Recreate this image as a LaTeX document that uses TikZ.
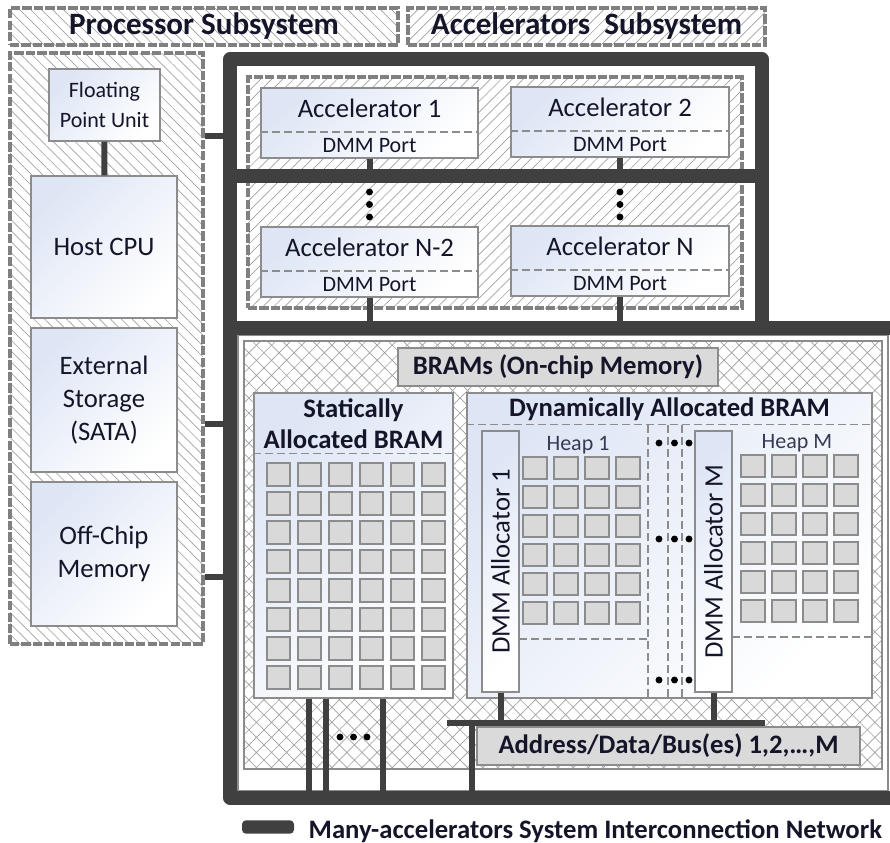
\documentclass[tikz,border=0pt]{standalone}
\usepackage{fontspec}
\setmainfont{Carlito}
\usetikzlibrary{patterns.meta,fit}
\definecolor{busgray}{HTML}{404040}
\definecolor{frameline}{HTML}{808080}
\definecolor{boxline}{HTML}{8C8C8C}
\definecolor{hatchc}{HTML}{A0A0A0}
\definecolor{tint}{HTML}{DEE6F5}
\definecolor{cellfill}{HTML}{D9D9D9}
\definecolor{labelfill}{HTML}{DADADA}
\definecolor{ink}{HTML}{15152A}
\definecolor{heapink}{HTML}{363B55}
\newcommand\fsz[2]{\fontsize{#1}{#2}\selectfont}
\tikzset{
  bus/.style={draw=busgray, line width=10pt, line join=round},
  link/.style={draw=busgray, line width=4.5pt},
  subsys/.style={draw=frameline, line width=3pt, dash pattern=on 7pt off 1.6pt, inner sep=0pt},
  hatchR/.style={pattern={Lines[angle=45,distance=5.8pt,line width=0.5pt]}, pattern color=hatchc},
  hatchL/.style={pattern={Lines[angle=-45,distance=5.8pt,line width=0.5pt]}, pattern color=hatchc},
  mesh/.style={pattern={Hatch[angle=45,distance=8pt,line width=0.5pt]}, pattern color=hatchc},
  unit/.style={draw=boxline, line width=1.1pt, top color=tint, bottom color=white, shading angle=45, inner sep=0pt},
  tag/.style={draw=boxline, line width=1.1pt, fill=labelfill, inner sep=0pt},
  cell/.style={draw=boxline, line width=1pt, fill=cellfill},
  sep/.style={draw=boxline, line width=0.9pt, dash pattern=on 6pt off 3pt},
  blob/.style={circle, fill=black, inner sep=0pt, minimum size=5.2pt},
  txt/.style={text=ink, font=\fsz{20}{25}, align=center},
  btxt/.style={text=ink, font=\bfseries\fsz{20}{23}, align=center},
  head/.style={text=ink, font=\bfseries\fsz{23.3}{28}},
}
% accelerator block with its DMM port strip
\newcommand\accbox[4]{%
  \node[unit, fit={#2 #3}] (#1) {};
  \draw[sep] ([yshift=20pt]#1.south west) -- ([yshift=20pt]#1.south east);
  \node[txt] (#1-title) at ([yshift=-16pt]#1.north) {#4};
  \node[text=ink, font=\fsz{16.5}{20}] (#1-port) at ([yshift=10pt]#1.south) {DMM Port};
}
\begin{document}
\begin{tikzpicture}[x=0.75pt,y=-0.75pt]
\useasboundingbox (0,0) rectangle (890,843);

% subsystem headers
\node[subsys, hatchL, fit={(10,8) (398,45)}] (ptitle) {};
\node[head] (ptitle-t) at (ptitle) {Processor Subsystem};
\node[subsys, hatchR, fit={(408,8) (765,45)}] (atitle) {};
\node[head] (atitle-t) at (atitle) {Accelerators\ \ Subsystem};

% processor subsystem
\node[subsys, hatchL, fit={(10,53) (203,644)}] (proc) {};
\node[unit, fit={(49,69) (160,141)}] (fpu) {};
\node[txt, font=\fsz{16.5}{22}] (fpu-t) at (fpu) {Floating\\Point Unit};
\node[unit, fit={(31,176) (177,318)}] (cpu) {};
\node[txt] (cpu-t) at (cpu) {Host CPU};
\node[unit, fit={(31,328) (177,472)}] (sata) {};
\node[txt] (sata-t) at (sata) {External\\Storage\\(SATA)};
\node[unit, fit={(31,482) (177,626)}] (ddr) {};
\node[txt] (ddr-t) at (ddr) {Off-Chip\\Memory};
\draw[link] (fpu) -- (cpu);

% accelerators subsystem
\node[subsys, hatchR, fit={(248,77) (742,308)}] (accpanel) {};
\accbox{acc1}{(261,88)}{(478,158)}{Accelerator 1}
\accbox{acc2}{(511,87)}{(729,157)}{Accelerator 2}
\accbox{accn2}{(261,227)}{(478,297)}{Accelerator N-2}
\accbox{accn}{(511,226)}{(729,296)}{Accelerator N}
\node[blob] (va1) at (369.5,192) {};
\node[blob] (va2) at (369.5,204.5) {};
\node[blob] (va3) at (369.5,217) {};
\node[blob] (vb1) at (620,192) {};
\node[blob] (vb2) at (620,204.5) {};
\node[blob] (vb3) at (620,217) {};

% on-chip memory region
\node[draw=boxline, line width=0.9pt, fill=white, inner sep=0pt, fit={(238,335) (888,791)}] (lowframe) {};
\node[draw=boxline, line width=0.9pt, mesh, inner sep=0pt, fit={(244,341) (882,769)}] (bramarea) {};
\node[tag, fit={(398,348) (718,386)}] (bramtag) {};
\node[btxt] (bramtag-t) at (bramtag) {BRAMs (On-chip Memory)};

% statically allocated BRAM
\node[unit, fit={(254,393) (453,698)}] (static) {};
\draw[sep] ([yshift=-45.75pt]static.north west) -- ([yshift=-45.75pt]static.north east);
\node[btxt] (static-t) at (353.5,424) {Statically\\Allocated BRAM};
\foreach \i in {0,...,5}
  \foreach \j in {0,...,7}
    \draw[cell] (267+31*\i,463+29*\j) rectangle ++(23,23);

% dynamically allocated BRAM
\node[unit, fit={(467,393) (872,698)}] (dyn) {};
\draw[sep] ([yshift=-24pt]dyn.north west) -- ([yshift=-24pt]dyn.north east);
\node[btxt] (dyn-t) at (669.5,409) {Dynamically Allocated BRAM};
\draw[sep] (519,639) -- (648,639);
\draw[sep] (648,425) -- (648,700);
\draw[sep] (668,425) -- (668,700);
\draw[sep] (682,425) -- (682,700);
\draw[sep] (732,637) -- (872,637);
\node[unit, fit={(482,431) (519,692)}] (alloc1) {};
\node[txt, rotate=90] (alloc1-t) at (alloc1) {DMM Allocator 1};
\node[unit, fit={(695,431) (732,692)}] (allocm) {};
\node[txt, rotate=90] (allocm-t) at (allocm) {DMM Allocator M};
\node[text=heapink, font=\fsz{16.5}{20}] (heap1) at (578,445) {Heap 1};
\node[text=heapink, font=\fsz{16.5}{20}] (heapm) at (797,443) {Heap M};
\foreach \i in {0,...,3}
  \foreach \j in {0,...,5} {
    \draw[cell] (523+31*\i,457+29*\j) rectangle ++(24,22);
    \draw[cell] (741+31*\i,455+29*\j) rectangle ++(24,22);
  }
\foreach \y/\n in {443/a,539/b,680/c} {
  \node[blob] (h\n1) at (659,\y) {};
  \node[blob] (h\n2) at (674.5,\y) {};
  \node[blob] (h\n3) at (689,\y) {};
}

% address / data buses
\coordinate (abL) at (447,723);
\coordinate (abR) at (765,723);
\coordinate (abDrop) at (472,723);
\coordinate (sA) at (309,798);
\coordinate (sB) at (326,798);
\coordinate (sC) at (383,798);
\draw[link] (abL) -- (abR);
\draw[link] (alloc1.south) -- (alloc1.south |- abL);
\draw[link] (allocm.south) -- (allocm.south |- abL);
\node[tag, fit={(477,727) (860,765)}] (addr) {};
\node[btxt] (addr-t) at (addr) {Address/Data/Bus(es) 1,2,…,M};
\node[blob] (sd1) at (340,737) {};
\node[blob] (sd2) at (353.5,737) {};
\node[blob] (sd3) at (367,737) {};

% system interconnection network
\coordinate (nw) at (230,59);
\coordinate (ne) at (762,59);
\coordinate (mw) at (230,176);
\coordinate (me) at (762,176);
\coordinate (jw) at (230,328);
\coordinate (je) at (762,328);
\coordinate (jr) at (890,328);
\coordinate (sw) at (230,798);
\coordinate (se) at (890,798);
\draw[bus] (jw) -- (nw) -- (ne) -- (je);
\draw[bus] (jr) -- (jw) -- (sw) -- (se);
\draw[bus] (mw) -- (me);

% taps onto the network
\coordinate (tA) at (230,136);
\coordinate (tB) at (230,424);
\coordinate (tC) at (230,577);
\draw[link] (proc.east |- tA) -- (tA);
\draw[link] (proc.east |- tB) -- (tB);
\draw[link] (proc.east |- tC) -- (tC);
\draw[link] (acc1.south) -- (acc1.south |- mw);
\draw[link] (acc2.south) -- (acc2.south |- mw);
\draw[link] (accn2.south) -- (accn2.south |- jw);
\draw[link] (accn.south) -- (accn.south |- jw);
\draw[link] (static.south -| sA) -- (sA);
\draw[link] (static.south -| sB) -- (sB);
\draw[link] (static.south -| sC) -- (sC);
\draw[link] (abDrop) -- (abDrop |- sw);

% legend
\node[fill=busgray, rounded corners=3pt, minimum width=39pt, minimum height=10pt, inner sep=0pt] (legkey) at (268,827) {};
\node[anchor=base west, text=ink, font=\bfseries\fsz{20}{24}] (legtext) at (304,838) {Many-accelerators System Interconnection Network};
\end{tikzpicture}
\end{document}
